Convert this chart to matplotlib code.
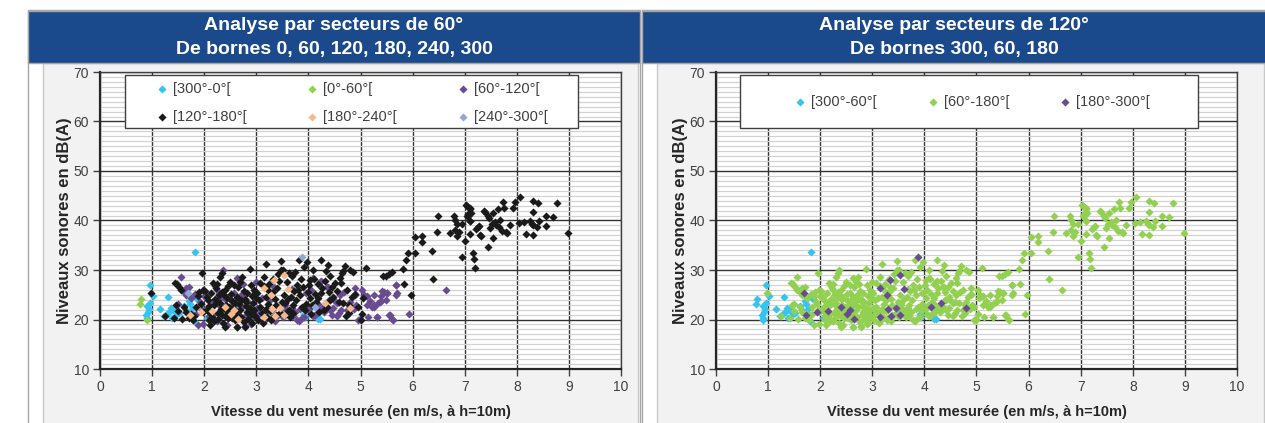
import matplotlib
matplotlib.use('Agg')
import matplotlib.pyplot as plt
from matplotlib.patches import Rectangle
from matplotlib.legend import Legend
from matplotlib.ticker import MultipleLocator

plt.rcParams['font.family'] = ['Liberation Sans', 'DejaVu Sans']

# (wind speed m/s, noise level dB(A)) per 60° wind sector
sec_300_0 = [(0.96, 27.0), (0.96, 23.4), (0.95, 22.1), (0.92, 21.6), (0.88, 20.9), (0.91, 20.4),
             (1.02, 24.8), (0.90, 22.8), (1.15, 22.1), (1.22, 20.7), (1.28, 21.1), (1.30, 24.5),
             (1.33, 21.6), (1.36, 22.3), (1.40, 22.0), (1.44, 21.8), (1.47, 21.1), (1.52, 21.3),
             (1.39, 20.4), (1.62, 22.8), (1.66, 21.9), (1.70, 23.7), (1.72, 23.1), (1.77, 22.1),
             (1.79, 20.9), (1.81, 19.6), (1.82, 24.9), (1.86, 24.1), (1.83, 33.6), (2.05, 20.4),
             (2.45, 22.3), (2.61, 22.9), (3.07, 21.6), (3.33, 20.2), (3.49, 21.9), (3.92, 21.1),
             (3.94, 20.6), (4.19, 20.2), (4.22, 20.1)]

sec_0_60 = [(0.78, 24.1), (0.76, 23.1), (0.91, 20.0)]

sec_60_120 = [(1.55, 28.5), (1.70, 26.5), (1.66, 26.4), (1.60, 25.8), (1.65, 24.9), (1.82, 25.2),
              (1.92, 23.6), (1.89, 18.9), (1.98, 19.0), (2.36, 29.9), (2.75, 27.1), (2.98, 25.6),
              (3.01, 22.3), (2.88, 19.9), (3.78, 19.9), (3.82, 19.6), (3.88, 20.3), (3.58, 21.9),
              (3.62, 21.6), (3.68, 22.3), (3.84, 22.1), (4.24, 27.8), (4.35, 26.6), (4.16, 21.3),
              (4.29, 21.6), (2.20, 26.7), (2.24, 25.9), (2.28, 25.2), (2.32, 24.6), (2.34, 21.9),
              (2.57, 25.3), (2.60, 23.9), (2.55, 22.9), (2.62, 21.8), (2.94, 20.6), (2.43, 18.9),
              (2.62, 18.4), (2.78, 18.6), (5.69, 27.0), (5.69, 25.0), (5.50, 25.3), (5.41, 25.8),
              (5.37, 23.6), (5.34, 23.3), (5.25, 24.9), (5.12, 24.7), (5.06, 25.0), (5.18, 23.8),
              (5.25, 22.9), (5.12, 22.9), (5.25, 22.6), (5.15, 20.6), (5.31, 20.6), (5.57, 20.9),
              (5.62, 20.0), (5.94, 21.1), (4.99, 20.2), (4.92, 22.9), (4.88, 22.2), (4.83, 22.3),
              (4.54, 20.7), (4.54, 23.3), (4.48, 22.3), (4.41, 21.9), (4.34, 22.6), (4.27, 22.3),
              (4.22, 21.9), (4.22, 27.6), (4.38, 26.6), (4.61, 24.9), (4.90, 24.9), (5.71, 25.3),
              (5.68, 26.9), (5.51, 25.3), (5.46, 25.6), (5.40, 24.7), (5.49, 24.0), (5.40, 23.7),
              (5.23, 22.6), (5.32, 20.6), (5.55, 20.9), (5.60, 20.1), (6.64, 26.0), (2.05, 22.4),
              (2.10, 20.8), (2.15, 23.5), (2.18, 21.2), (2.25, 19.6), (2.30, 22.7), (2.40, 24.2),
              (2.45, 20.4), (2.50, 21.6), (2.52, 24.0), (2.66, 20.3), (2.70, 25.0), (2.72, 22.6),
              (2.80, 21.0), (2.85, 23.6), (2.90, 19.1), (3.05, 21.2), (3.10, 24.3), (3.14, 19.6),
              (3.20, 21.7), (3.26, 23.9), (3.30, 22.0), (3.36, 19.7), (3.42, 21.0), (3.48, 22.4),
              (3.52, 20.6), (3.55, 23.0), (3.70, 20.8), (3.74, 21.6), (3.92, 20.6), (3.96, 21.9),
              (4.02, 22.2), (4.08, 20.7), (4.12, 21.0), (4.18, 23.2), (4.45, 21.0), (4.50, 24.0),
              (4.58, 21.3), (4.62, 22.0), (4.68, 25.5), (4.74, 21.9), (4.80, 23.5), (4.95, 20.0),
              (1.75, 24.4), (1.85, 21.2), (2.00, 24.8), (1.50, 23.1), (1.95, 22.0), (3.96, 25.4),
              (4.05, 25.9), (2.63, 28.3), (3.00, 27.6), (3.34, 26.6), (3.68, 26.2), (4.40, 24.0),
              (4.08, 28.3), (4.89, 26.3), (5.02, 26.0)]

sec_120_180 = [(0.97, 25.4), (1.25, 20.7), (1.44, 27.4), (1.52, 26.6), (1.48, 27.2), (1.55, 25.9),
               (1.46, 22.9), (1.50, 21.8), (1.42, 20.4), (1.57, 20.2), (1.65, 21.5), (1.70, 20.4),
               (1.74, 21.2), (1.80, 20.8), (1.95, 29.3), (1.98, 26.0), (1.90, 25.5), (1.88, 24.8),
               (1.85, 22.5), (1.93, 23.2), (1.78, 19.9), (1.62, 22.6), (1.97, 21.6),
               (2.02, 25.8), (2.05, 24.6), (2.08, 23.9), (2.10, 22.7), (2.12, 21.4), (2.15, 20.5),
               (2.18, 19.6), (2.20, 24.2), (2.22, 26.3), (2.25, 27.1), (2.28, 25.0), (2.30, 23.4),
               (2.32, 22.1), (2.34, 21.0), (2.36, 19.3), (2.38, 24.9), (2.40, 26.0), (2.42, 23.0),
               (2.44, 21.7), (2.46, 20.3), (2.40, 18.4), (2.06, 21.9), (2.14, 25.4), (2.19, 22.9),
               (2.26, 20.1), (2.31, 28.6), (2.35, 25.6), (2.43, 24.3), (2.47, 22.5), (2.12, 18.9),
               (2.24, 23.7), (2.39, 20.8), (2.17, 27.3), (2.34, 29.3), (2.09, 20.0), (2.27, 21.3),
               (2.45, 26.8), (2.50, 27.5), (2.52, 25.2), (2.54, 23.8), (2.56, 22.4), (2.58, 21.2),
               (2.60, 19.8), (2.62, 24.5), (2.64, 26.5), (2.66, 23.1), (2.68, 21.9), (2.70, 20.6),
               (2.62, 18.4), (2.72, 28.5), (2.76, 25.7), (2.78, 24.1), (2.80, 22.8), (2.82, 21.5),
               (2.84, 20.1), (2.91, 19.2), (2.87, 30.3), (2.90, 26.9), (2.92, 24.8), (2.94, 23.4),
               (2.96, 22.0), (2.98, 20.7), (2.53, 20.4), (2.59, 23.3), (2.78, 18.4), (2.71, 24.0),
               (2.77, 19.5), (2.83, 25.4), (2.89, 21.2), (2.95, 25.9), (2.57, 26.9), (2.69, 27.6),
               (2.81, 23.6), (2.63, 21.0), (2.87, 22.4), (2.99, 24.4),
               (3.02, 25.3), (3.05, 23.9), (3.08, 22.6), (3.10, 21.3), (3.15, 28.6), (3.15, 26.7),
               (3.18, 31.3), (3.19, 24.6), (3.22, 23.1), (3.25, 27.1), (3.27, 21.8), (3.30, 20.4),
               (3.32, 25.6), (3.35, 24.2), (3.37, 22.9), (3.40, 26.3), (3.42, 29.1), (3.45, 21.4),
               (3.47, 31.9), (3.47, 30.0), (3.49, 23.6), (3.04, 20.0), (3.12, 19.3), (3.20, 20.6),
               (3.28, 19.8), (3.38, 20.9), (3.44, 27.8), (3.07, 27.4), (3.18, 22.2), (3.33, 28.2),
               (3.23, 25.9), (3.51, 30.1), (3.53, 25.0), (3.56, 23.3), (3.58, 27.5), (3.63, 29.3),
               (3.63, 22.0), (3.66, 24.6), (3.68, 28.8), (3.71, 21.3), (3.73, 25.8), (3.76, 23.9),
               (3.79, 27.0), (3.81, 32.0), (3.84, 24.9), (3.87, 22.6), (3.90, 26.6), (3.92, 30.6),
               (3.95, 23.2), (3.97, 31.7), (3.99, 25.5), (3.55, 21.2), (3.64, 20.5), (3.74, 29.5),
               (3.86, 28.2), (3.94, 21.9), (3.60, 24.1), (3.80, 26.0), (3.70, 23.0),
               (4.03, 28.0), (4.02, 26.9), (4.04, 24.3), (4.07, 22.9), (4.10, 28.1), (4.12, 25.2),
               (4.15, 23.5), (4.18, 27.2), (4.21, 21.5), (4.24, 32.0), (4.25, 25.3), (4.27, 26.3),
               (4.29, 21.9), (4.34, 29.7), (4.37, 31.0), (4.36, 22.6), (4.41, 23.9), (4.41, 28.8),
               (4.45, 26.6), (4.48, 24.6), (4.08, 30.0), (4.19, 24.4), (4.32, 27.8), (4.39, 25.5),
               (4.05, 21.2), (4.51, 27.3), (4.55, 25.7), (4.58, 23.6), (4.61, 28.3), (4.62, 27.3),
               (4.64, 29.3), (4.66, 29.8), (4.67, 23.3), (4.70, 30.8), (4.74, 26.0), (4.77, 22.9),
               (4.77, 21.4), (4.80, 30.0), (4.83, 24.6), (4.89, 25.2), (4.95, 22.5), (5.00, 19.9),
               (5.02, 21.1), (5.04, 24.3), (4.72, 20.8), (4.85, 29.6),
               (5.11, 30.5), (5.44, 28.8), (5.49, 28.7), (5.54, 29.1), (5.60, 29.5), (5.81, 30.3),
               (5.83, 27.1), (5.87, 32.0), (5.92, 33.4), (5.96, 25.0),
               (6.05, 33.4), (6.04, 36.7), (6.19, 35.7), (6.19, 36.9), (6.37, 33.8), (6.39, 28.2),
               (6.46, 37.7), (6.49, 40.9), (6.72, 37.4), (6.79, 40.9), (6.81, 40.2), (6.85, 39.3),
               (6.82, 38.1), (6.86, 36.9), (6.90, 37.6), (6.94, 39.3), (6.94, 32.7), (7.01, 35.9),
               (7.03, 43.1), (7.04, 41.0), (7.10, 42.5), (7.12, 41.6), (7.06, 40.9), (7.10, 39.8),
               (7.11, 39.9), (7.10, 37.3), (7.15, 33.4), (7.17, 32.2), (7.20, 30.5), (7.22, 38.2),
               (7.26, 38.7), (7.28, 38.9), (7.29, 37.1), (7.31, 36.9), (7.39, 41.8), (7.38, 41.9),
               (7.45, 40.9), (7.46, 40.6), (7.45, 34.7), (7.49, 38.4), (7.52, 39.3), (7.55, 41.5),
               (7.55, 36.4), (7.58, 39.6), (7.60, 39.0), (7.63, 42.3), (7.65, 38.7), (7.68, 40.1),
               (7.71, 37.9), (7.74, 43.7), (7.75, 42.5), (7.79, 37.7), (7.82, 37.5), (7.87, 39.0),
               (7.92, 42.6), (7.96, 43.7), (8.04, 39.4), (8.07, 44.7), (8.14, 39.7), (8.18, 37.2),
               (8.25, 39.9), (8.29, 39.3), (8.32, 39.1), (8.32, 44.0), (8.32, 41.7), (8.32, 37.1),
               (8.38, 38.6), (8.41, 43.5), (8.42, 39.8), (8.56, 38.8), (8.57, 41.0), (8.69, 40.7),
               (8.77, 43.5), (8.99, 37.4), (7.04, 43.0), (7.11, 42.4), (7.06, 41.3)]

sec_180_240 = [(1.72, 20.9), (1.94, 21.6), (2.15, 21.8), (2.39, 22.5), (2.51, 21.2), (2.57, 22.0),
               (2.64, 20.1), (3.14, 20.6), (3.15, 26.4), (3.29, 25.0), (3.31, 22.2), (3.34, 28.0),
               (3.36, 20.8), (3.46, 22.4), (3.53, 29.0), (3.53, 20.9), (3.60, 26.1), (4.32, 23.3),
               (4.79, 22.3)]

sec_240_300 = [(1.68, 25.4), (3.87, 32.6), (4.13, 22.5)]

labels_60 = ['[300°-0°[', '[0°-60°[', '[60°-120°[', '[120°-180°[', '[180°-240°[', '[240°-300°[']
colors_60 = ['#35c3ef', '#92d050', '#684b92', '#1a1a1a', '#f8b98a', '#8ea9d4']
groups_60 = [sec_300_0, sec_0_60, sec_60_120, sec_120_180, sec_180_240, sec_240_300]

labels_120 = ['[300°-60°[', '[60°-180°[', '[180°-300°[']
colors_120 = ['#35c3ef', '#92d050', '#684b92']
groups_120 = [sec_300_0 + sec_0_60, sec_60_120 + sec_120_180, sec_180_240 + sec_240_300]

W, H = 1265, 423
fig = plt.figure(figsize=(W / 100, H / 100), dpi=100)


def box(x0, y0, x1, y1, **kw):
    fig.patches.append(Rectangle((x0 / W, 1 - y1 / H), (x1 - x0) / W, (y1 - y0) / H,
                                 transform=fig.transFigure, zorder=-10, **kw))


def panel(x0, x1, ax_x, title, groups, labels, colors, leg_box, leg_items):
    box(x0, 10, x1, 440, facecolor='white', edgecolor='#a6a6a6', lw=1)
    box(x0 + 15, 63, x1 - 2, 440, facecolor='#f2f2f2', edgecolor='#c8c8c8', lw=1)
    box(x0, 11, x1, 63, facecolor='#1b4a8c', edgecolor='#a6a6a6', lw=1)
    fig.text((x0 + x1) / 2 / W, 1 - 37.5 / H, title, color='white', fontsize=14,
             fontweight='bold', ha='center', va='center', linespacing=1.5)

    ax = fig.add_axes([ax_x / W, 1 - 369 / H, 521 / W, 297 / H])
    ax.set_facecolor('white')
    handles = []
    for pts, lab, col in zip(groups, labels, colors):
        xs = [p[0] for p in pts]
        ys = [p[1] for p in pts]
        handles.append(ax.scatter(xs, ys, s=17, marker='D', color=col, linewidths=0, label=lab, zorder=3))

    ax.set_xlim(0, 10)
    ax.set_ylim(10, 70)
    ax.xaxis.set_major_locator(MultipleLocator(1))
    ax.yaxis.set_major_locator(MultipleLocator(10))
    ax.yaxis.set_minor_locator(MultipleLocator(1))
    ax.set_axisbelow(True)
    ax.grid(which='minor', axis='y', color='#d2d2d2', lw=0.9)
    ax.grid(which='major', color='#333333', lw=1.0)
    ax.tick_params(which='minor', length=0)
    ax.tick_params(which='major', direction='out', length=5, width=1, color='#404040',
                   labelcolor='#404040', labelsize=10, pad=3)
    for s in ['left', 'bottom']:
        ax.spines[s].set_color('#262626')
        ax.spines[s].set_linewidth(1.6)
    for s in ['top', 'right']:
        ax.spines[s].set_color('#404040')
        ax.spines[s].set_linewidth(1.0)

    ax.set_xlabel('Vitesse du vent mesurée (en m/s, à h=10m)', fontsize=10.5,
                  fontweight='bold', color='#262626', labelpad=8)
    ax.set_ylabel('Niveaux sonores en dB(A)', fontsize=12, fontweight='bold',
                  color='#262626', labelpad=1)

    # legend frame and entries placed like the Excel legend
    bx0, by0, bx1, by1 = leg_box
    ax.add_patch(Rectangle(((bx0 - ax_x) / 521, (369 - by1) / 297), (bx1 - bx0) / 521,
                           (by1 - by0) / 297, transform=ax.transAxes, facecolor='white',
                           edgecolor='#404040', lw=1, clip_on=False, zorder=5))
    for h, (mx, my) in zip(handles, leg_items):
        leg = Legend(ax, [h], [h.get_label()], loc='center left',
                     bbox_to_anchor=((mx - 4 - ax_x) / 521, (369 - my) / 297),
                     frameon=False, borderpad=0, borderaxespad=0, handlelength=0.6,
                     handletextpad=0.4, fontsize=10.5, labelcolor='#404040')
        leg.set_zorder(6)
        ax.add_artist(leg)
    return ax


panel(28, 640, 100, 'Analyse par secteurs de 60°\nDe bornes 0, 60, 120, 180, 240, 300',
      groups_60, labels_60, colors_60, (125, 75, 578, 128),
      [(162, 89), (312, 89), (463, 89), (162, 117), (312, 117), (463, 117)])
panel(642, 1266, 716, 'Analyse par secteurs de 120°\nDe bornes 300, 60, 180',
      groups_120, labels_120, colors_120, (740, 75, 1198, 128),
      [(800, 102), (933, 102), (1065, 102)])

fig.savefig('out.png', dpi=100)
